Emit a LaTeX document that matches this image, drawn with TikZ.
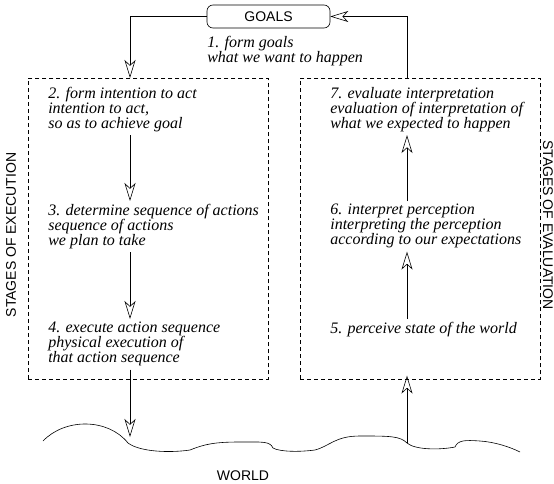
\documentclass[tikz,border=0pt]{standalone}
\usepackage{fontspec}
\setmainfont{Liberation Serif}
\setsansfont{Liberation Sans}
\newfontfamily\stageserif{Liberation Serif}
\usetikzlibrary{arrows.meta,positioning,calc}
\tikzstyle{goalbox} = [rectangle, draw, rounded corners=6pt, minimum width=123pt, minimum height=23pt, inner sep=0pt, font=\sffamily\fontsize{14}{16}\selectfont]
\tikzstyle{stagebox} = [rectangle, draw, dash pattern=on 4pt off 3pt, inner sep=0pt, anchor=north west, minimum width=240pt, minimum height=301pt]
\tikzstyle{stagetext} = [anchor=north west, align=left, inner sep=3pt, font=\stageserif\itshape\fontsize{16}{15}\selectfont]
\tikzstyle{caption} = [inner sep=0pt, font=\sffamily\fontsize{14}{16}\selectfont]
\tikzstyle{line} = [draw, -{Stealth[open, length=18pt, width=11pt, inset=5pt]}]

\begin{document}
\begin{tikzpicture}[x=1pt, y=-1pt, line width=0.6pt]
		\useasboundingbox (0,0) rectangle (554,484);
		% Goals
		\node[goalbox] (goals) at (268.5,16.5) {GOALS};
		\node[stagetext] (t1) at (204,33) {1. form goals\\what we want to happen};
		
		% Dashed stage boxes
		\node[stagebox] (execbox) at (28,78) {};
		\node[stagebox] (evalbox) at (300,78) {};
		\node[caption, rotate=90] (execlabel) at (11,235) {STAGES OF EXECUTION};
		\node[caption, rotate=-90] (evallabel) at (548,225) {STAGES OF EVALUATION};
		
		% Execution side
		\node[stagetext] (t2) at (45,84) {2. form intention to act\\intention to act,\\so as to achieve goal};
		\node[stagetext] (t3) at (45,201) {3. determine sequence of actions\\sequence of actions\\we plan to take};
		\node[stagetext] (t4) at (45,319) {4. execute action sequence\\physical execution of\\that action sequence};
		
		% Evaluation side
		\node[stagetext] (t5) at (327,319) {5. perceive state of the world};
		\node[stagetext] (t6) at (327,201) {6. interpret perception\\interpreting the perception\\according to our expectations};
		\node[stagetext] (t7) at (327,84) {7. evaluate interpretation\\evaluation of interpretation of\\what we expected to happen};
		
		% World
		\draw (43,441) .. controls (65,418) and (108,418) .. (128,443)
			.. controls (140,452) and (170,453) .. (190,450)
			.. controls (205,444) and (215,442) .. (240,442)
			.. controls (262,442) and (270,441) .. (273,448)
			.. controls (280,452) and (300,452) .. (315,450)
			.. controls (330,446) and (335,436) .. (360,436)
			.. controls (390,436) and (400,436) .. (407,443)
			.. controls (415,450) and (440,450) .. (455,447)
			.. controls (458,440) and (465,440) .. (480,441)
			.. controls (495,442) and (510,447) .. (520,452);
		\node[caption] (world) at (243,476) {WORLD};
		
		% empty nodes for arrow columns and world ends
		\coordinate (execx) at (130,16);
		\coordinate (evalx) at (407,16);
		\coordinate (wl) at (130,437);
		\coordinate (wr) at (407,443);
		
		% Paths
		\path [line] (goals.west) -| (execbox.north -| execx);
		\path [line] (t2.south -| execx) -- (t3.north -| execx);
		\path [line] (t3.south -| execx) -- (t4.north -| execx);
		\path [line] (t4.south -| execx) -- (wl);
		\path [line, shorten >=-4pt] (wr) -- (evalbox.south -| wr);
		\path [line] (t5.north -| evalx) -- (t6.south -| evalx);
		\path [line] (t6.north -| evalx) -- (t7.south -| evalx);
		\path [line] (evalbox.north -| evalx) |- (goals.east);
		
	\end{tikzpicture}
\end{document}
